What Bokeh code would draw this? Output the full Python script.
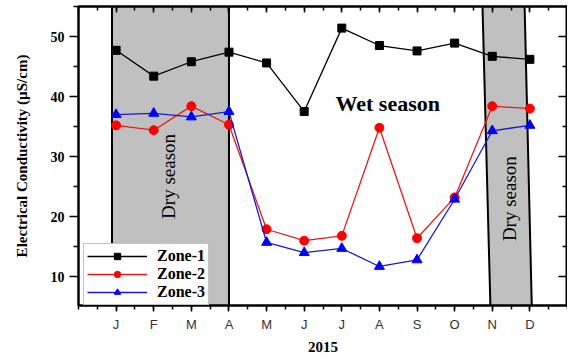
import math
from bokeh.plotting import figure
from bokeh.models import (LinearAxis, FixedTicker, Range1d, Legend, LegendItem,
                          CustomJSTickFormatter)
from bokeh.core.properties import value
from bokeh.embed import file_html
from bokeh.resources import INLINE

months = ["J", "F", "M", "A", "M", "J", "J", "A", "S", "O", "N", "D"]
month_pos = list(range(1, 13))
zone1 = [47.7, 43.4, 45.8, 47.4, 45.6, 37.5, 51.4, 48.5, 47.6, 48.9, 46.7, 46.2]
zone2 = [35.2, 34.4, 38.4, 35.3, 17.9, 16.0, 16.8, 34.8, 16.4, 23.2, 38.4, 38.0]
zone3 = [37.0, 37.2, 36.6, 37.5, 15.7, 14.0, 14.7, 11.7, 12.8, 22.9, 34.3, 35.2]
y_ticks = [10, 20, 30, 40, 50]

# dry-season bands (x in month units)
dry1_x = [0.89, 4.0, 4.0, 0.89]
dry2_x = [10.95, 12.05, 11.86, 10.74]
band_y = [5.2, 5.2, 55.0, 55.0]

SERIF = "Liberation Serif"
SANS = "Liberation Sans"

p = figure(width=568, height=350, output_backend="svg", toolbar_location=None,
           x_range=Range1d(0, 13), y_range=Range1d(5.2, 55.0),
           frame_width=489, frame_height=299,
           min_border_left=78, min_border_right=0, min_border_top=6, min_border_bottom=0)
p.grid.visible = False
p.outline_line_color = "black"
p.outline_line_width = 2
p.background_fill_color = "white"
p.border_fill_color = "white"

p.patch(dry1_x, band_y, fill_color="#c0c0c0", line_color="black", line_width=2)
p.patch(dry2_x, band_y, fill_color="#c0c0c0", line_color="black", line_width=2)

r1 = p.line(month_pos, zone1, color="black", line_width=1.3)
s1 = p.scatter(month_pos, zone1, marker="square", size=8, color="black")
r2 = p.line(month_pos, zone2, color="#e8191b", line_width=1.3)
s2 = p.scatter(month_pos, zone2, marker="circle", size=9, color="#ff0000")
r3 = p.line(month_pos, zone3, color="#1a1acc", line_width=1.3)
s3 = p.scatter(month_pos, zone3, marker="triangle", size=10, color="#0000ff")

p.text(x=[8.22], y=[38.8], text=["Wet season"], text_font=value(SERIF),
       text_font_style="bold", text_font_size="22px", text_align="center",
       text_baseline="middle", text_color="black")
p.text(x=[2.39, 11.47], y=[26.7, 23.0], text=["Dry season", "Dry season"],
       angle=math.pi / 2, text_font=value(SERIF), text_font_size="19px",
       text_align="center", text_baseline="middle", text_color="black")

xt = FixedTicker(ticks=month_pos, minor_ticks=[i * 0.5 for i in range(0, 27)])
yt = FixedTicker(ticks=y_ticks, minor_ticks=[5, 15, 25, 35, 45, 55])

xa = p.xaxis[0]
xa.ticker = xt
xa.major_label_overrides = {m: lab for m, lab in zip(month_pos, months)}
xa.major_label_text_font = SANS
xa.major_label_text_font_size = "13px"
xa.major_label_text_color = "#333333"
xa.axis_label = "2015"
xa.axis_label_text_font = SERIF
xa.axis_label_text_font_size = "15px"
xa.axis_label_text_color = "black"
xa.axis_label_standoff = 7
xa.major_label_standoff = 5
xa.major_tick_out = 6
xa.minor_tick_out = 4

ya = p.yaxis[0]
ya.ticker = yt
ya.major_label_text_font = SERIF
ya.major_label_text_font_style = "bold"
ya.major_label_text_font_size = "14px"
ya.major_label_text_color = "black"
ya.axis_label = "Electrical Conductivity (\u00b5S/cm)"
ya.axis_label_text_font = SERIF
ya.axis_label_text_font_size = "15px"
ya.axis_label_text_color = "black"
ya.axis_label_standoff = 18
ya.major_label_standoff = 5
ya.major_tick_out = 9
ya.minor_tick_out = 5

for ax in (xa, ya):
    ax.axis_line_width = 2
    ax.major_tick_in = 0
    ax.minor_tick_in = 0
    ax.major_tick_line_width = 1.5
    ax.minor_tick_line_width = 1.5
    ax.axis_label_text_font_style = "bold"

blank = CustomJSTickFormatter(code="return '';")
top = LinearAxis(ticker=xt, formatter=blank, major_tick_in=6,
                 major_tick_out=0, minor_tick_in=4, minor_tick_out=0,
                 axis_line_width=2, major_tick_line_width=1.5,
                 minor_tick_line_width=1.5, major_label_standoff=0)
right = LinearAxis(ticker=yt, formatter=blank, major_tick_in=9,
                   major_tick_out=0, minor_tick_in=5, minor_tick_out=0,
                   axis_line_width=2, major_tick_line_width=1.5,
                   minor_tick_line_width=1.5, major_label_standoff=0)
p.add_layout(top, "above")
p.add_layout(right, "right")

legend = Legend(items=[LegendItem(label="Zone-1", renderers=[r1, s1]),
                       LegendItem(label="Zone-2", renderers=[r2, s2]),
                       LegendItem(label="Zone-3", renderers=[r3, s3])],
                location=(5, 0), label_text_font=SERIF, label_text_font_style="bold",
                label_text_font_size="16px", label_text_color="black",
                glyph_width=60, glyph_height=16,
                label_height=16, label_standoff=10, spacing=0, padding=3, margin=0,
                border_line_color="#888888", border_line_width=1.5,
                background_fill_color="white", background_fill_alpha=1)
p.add_layout(legend)

open("out.html", "w").write(file_html(p, INLINE))
